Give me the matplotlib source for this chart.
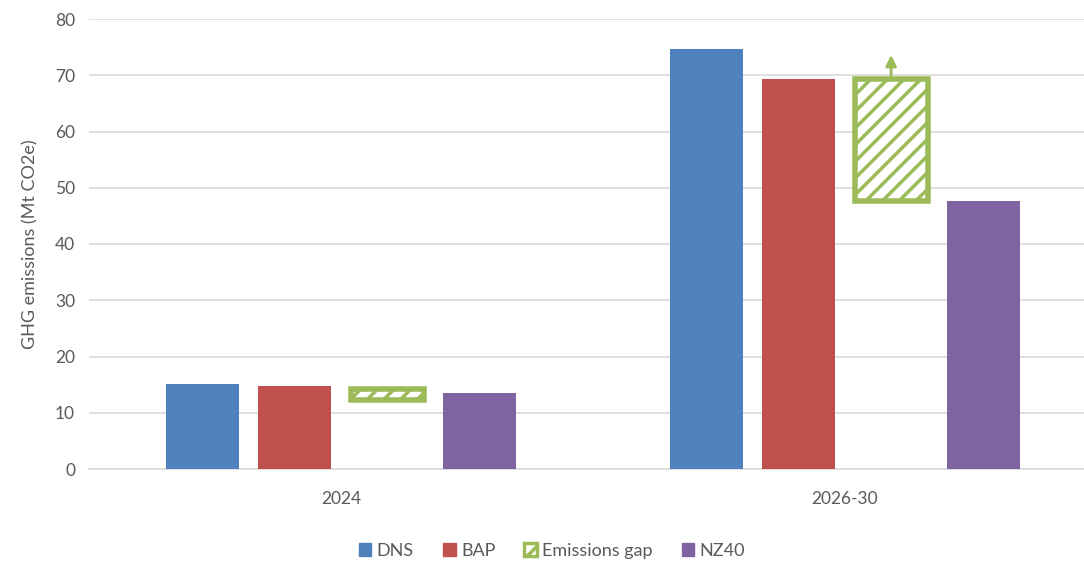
import numpy as np
import matplotlib
matplotlib.use("Agg")
import matplotlib.pyplot as plt
from matplotlib.patches import Patch

# data
categories = ["2024", "2026-30"]
dns = [15.1, 74.7]
bap = [14.7, 69.3]
nz40 = [13.6, 47.6]
gap_low = [12.3, 47.6]
gap_high = [14.2, 69.3]
gap_arrow_top = 73.6   # arrow above the 2026-30 gap

blue = "#4F81BD"
red = "#C0504D"
green = "#9BBB59"
purple = "#8064A2"
grey_text = "#595959"

plt.rcParams["font.family"] = ["Lato", "DejaVu Sans"]
plt.rcParams["hatch.linewidth"] = 2.5

fig = plt.figure(figsize=(10.84, 5.67), dpi=100)
ax = fig.add_axes([89 / 1084, 98 / 567, 1008 / 1084, 450 / 567])

x = np.arange(len(categories))
w = 0.145
step = 0.183

ax.bar(x - 1.5 * step, dns, w, color=blue, zorder=3)
ax.bar(x - 0.5 * step, bap, w, color=red, zorder=3)
gap_h = [hi - lo for lo, hi in zip(gap_low, gap_high)]
ax.bar(x + 0.5 * step, gap_h, w, bottom=gap_low, facecolor="white",
       edgecolor=green, hatch="//", linewidth=4, zorder=3)
ax.bar(x + 1.5 * step, nz40, w, color=purple, zorder=3)

# arrow showing the gap could grow
ax.annotate("", xy=(x[1] + 0.5 * step, gap_arrow_top),
            xytext=(x[1] + 0.5 * step, gap_high[1] + 0.3),
            arrowprops=dict(arrowstyle="-|>", color=green, lw=2,
                            mutation_scale=16, shrinkA=0, shrinkB=0),
            zorder=4)

ax.set_xlim(-0.5, 1.5)
ax.set_ylim(0, 80)
ax.set_yticks(range(0, 81, 10))
ax.set_xticks(x)
ax.set_xticklabels(categories)
ax.grid(axis="y", color="#D9D9D9", linewidth=1.2, zorder=0)
for s in ["top", "right", "left"]:
    ax.spines[s].set_visible(False)
ax.spines["bottom"].set_color("#D9D9D9")
ax.spines["bottom"].set_linewidth(1.2)
ax.tick_params(axis="both", length=0, labelsize=12.5, colors=grey_text)
ax.tick_params(axis="y", pad=10)
ax.tick_params(axis="x", pad=16)
ax.set_ylabel("GHG emissions (Mt CO2e)", fontsize=13, color=grey_text,
              labelpad=12)

handles = [
    Patch(facecolor=blue, edgecolor=blue),
    Patch(facecolor=red, edgecolor=red),
    Patch(facecolor="white", edgecolor=green, hatch="//", linewidth=2.5),
    Patch(facecolor=purple, edgecolor=purple),
]
labels = ["DNS", "BAP", "Emissions gap", "NZ40"]
fig.legend(handles, labels, loc="center", bbox_to_anchor=(552 / 1084, 16 / 567),
           ncol=4, frameon=False, fontsize=13, handlelength=0.7,
           handleheight=0.7, handletextpad=0.3, columnspacing=1.6,
           labelcolor=grey_text)

fig.savefig("out.png", dpi=100)
